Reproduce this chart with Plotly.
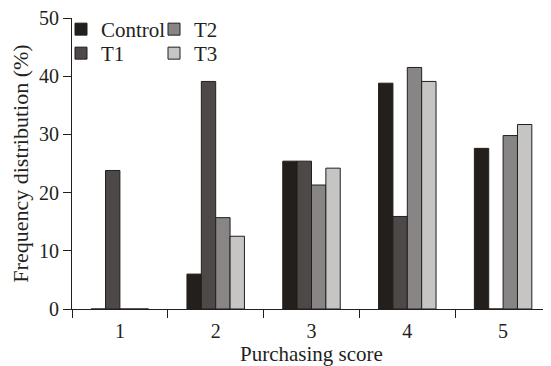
import plotly.graph_objects as go

categories = ["1", "2", "3", "4", "5"]
control = [0, 6.0, 25.4, 38.8, 27.6]
t1 = [23.8, 39.1, 25.4, 15.9, 0]
t2 = [0, 15.7, 21.3, 41.5, 29.8]
t3 = [0, 12.5, 24.2, 39.1, 31.7]
y_ticks = [0, 10, 20, 30, 40, 50]

series = [
    ("Control", control, "#231f1c", "legend"),
    ("T1", t1, "#4d4948", "legend2"),
    ("T2", t2, "#878586", "legend3"),
    ("T3", t3, "#c5c5c4", "legend4"),
]

FONT = "Liberation Serif, Times New Roman, serif"
INK = "#231f1c"

fig = go.Figure()
for name, vals, col, lg in series:
    fig.add_trace(go.Bar(
        x=categories, y=vals, name=name,
        marker=dict(color=col, line=dict(color=INK, width=1)),
        legend=lg,
    ))

# page has an 8px body margin; figure sized to fit the window
W, H = 543, 358
L, T, R, B = 64, 10, 0, 57
PW, PH = W - L - R, H - T - B


def leg(xpx, ypx):
    return dict(
        x=(xpx - L) / PW, y=1 - (ypx - T) / PH, xanchor="left", yanchor="top",
        bgcolor="rgba(0,0,0,0)", borderwidth=0,
        font=dict(family=FONT, size=21, color=INK),
        tracegroupgap=0, itemwidth=30,
    )


fig.update_layout(
    width=W, height=H,
    margin=dict(l=L, r=R, t=T, b=B, autoexpand=False),
    paper_bgcolor="white", plot_bgcolor="white",
    barmode="group", bargap=0.4, bargroupgap=0,
    font=dict(family=FONT, size=20, color=INK),
    showlegend=True,
    legend=leg(53, 1),
    legend2=leg(53, 25),
    legend3=leg(146, 1),
    legend4=leg(146, 25),
)
fig.update_xaxes(
    type="category",
    showline=True, linecolor=INK, linewidth=1,
    ticks="outside", tickson="boundaries", ticklen=8, tickcolor=INK, tickwidth=1,
    showgrid=False, zeroline=False,
    ticklabelstandoff=4,
    tickfont=dict(family=FONT, size=20, color=INK),
    title=dict(text="Purchasing score", font=dict(family=FONT, size=21, color=INK)),
)
fig.update_yaxes(
    range=[0, 50], tickvals=y_ticks,
    showline=True, linecolor=INK, linewidth=1,
    ticks="outside", ticklen=8, tickcolor=INK, tickwidth=1,
    showgrid=False, zeroline=False,
    ticklabeloverflow="allow",
    tickfont=dict(family=FONT, size=20, color=INK),
    title=dict(text="Frequency distribution (%)", font=dict(family=FONT, size=22, color=INK)),
)
fig.write_html("out.html")
